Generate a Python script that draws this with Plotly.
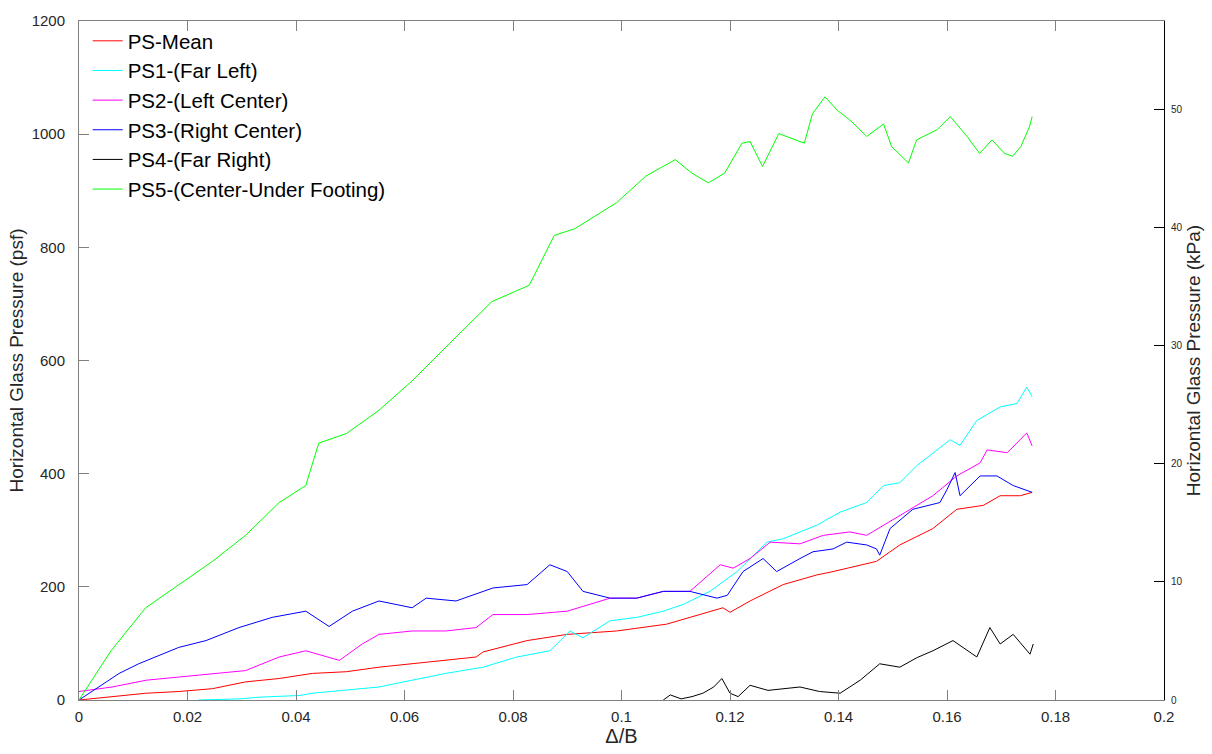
import plotly.graph_objects as go

# ---------------- data ----------------
series_names = ["PS-Mean", "PS1-(Far Left)", "PS2-(Left Center)", "PS3-(Right Center)",
                "PS4-(Far Right)", "PS5-(Center-Under Footing)"]

mean_x = [0, 0.0061, 0.0124, 0.0184, 0.0246, 0.0307, 0.0369, 0.043, 0.0493, 0.0553, 0.0614, 0.0676,
          0.0732, 0.0745, 0.0826, 0.09, 0.0991, 0.1083, 0.1144, 0.1187, 0.12, 0.1237, 0.1298, 0.136,
          0.139, 0.147, 0.1513, 0.1574, 0.1618, 0.1667, 0.1698, 0.1735, 0.1757]
mean_y = [0, 6, 12, 15, 20, 32, 38, 47, 50, 58, 64, 70, 76, 85, 105, 116, 122, 134, 151, 163, 155,
          175, 204, 221, 227, 245, 274, 303, 337, 344, 361, 361, 367]

ps1_x = [0.022, 0.0297, 0.0332, 0.0407, 0.043, 0.0493, 0.0553, 0.0614, 0.0676, 0.0745, 0.0807, 0.0868,
         0.0905, 0.0929, 0.0979, 0.1028, 0.1077, 0.1114, 0.1163, 0.1213, 0.1268, 0.1298, 0.136, 0.1403,
         0.1452, 0.1483, 0.1513, 0.1544, 0.1574, 0.1606, 0.1624, 0.1655, 0.1698, 0.1729, 0.1747, 0.1757]
ps1_y = [0, 2, 5, 8, 12, 17, 23, 35, 47, 58, 76, 87, 122, 110, 140, 146, 157, 169, 192, 227, 279, 285,
         309, 332, 349, 379, 384, 414, 437, 460, 450, 494, 518, 524, 553, 536]

ps2_x = [0, 0.0061, 0.0124, 0.0184, 0.0246, 0.0307, 0.0369, 0.0418, 0.048, 0.0522, 0.0553, 0.0614,
         0.0676, 0.0732, 0.0763, 0.0826, 0.09, 0.0979, 0.1028, 0.1077, 0.1126, 0.1182, 0.1206, 0.1237,
         0.1274, 0.1329, 0.1372, 0.1421, 0.1452, 0.1513, 0.1574, 0.1618, 0.1661, 0.1674, 0.1711, 0.1747,
         0.1757]
ps2_y = [15, 23, 35, 41, 47, 52, 76, 87, 70, 99, 116, 122, 122, 128, 151, 151, 157, 180, 180, 192, 192,
         239, 233, 250, 279, 276, 291, 297, 291, 326, 361, 396, 419, 442, 437, 472, 449]

ps3_x = [0, 0.0037, 0.0074, 0.011, 0.0153, 0.0184, 0.0234, 0.0295, 0.0356, 0.0418, 0.0461, 0.0504,
         0.0553, 0.0614, 0.064, 0.0695, 0.0763, 0.0826, 0.0868, 0.09, 0.0929, 0.0979, 0.1028, 0.1077,
         0.1126, 0.1176, 0.1195, 0.1224, 0.1261, 0.1286, 0.1329, 0.1353, 0.139, 0.1415, 0.1452, 0.147,
         0.1476, 0.1495, 0.1537, 0.1587, 0.16, 0.1615, 0.1624, 0.1661, 0.1692, 0.1722, 0.1757]
ps3_y = [0, 23, 47, 64, 81, 93, 105, 128, 146, 157, 130, 157, 175, 163, 180, 175, 198, 204, 239, 227,
         192, 180, 180, 192, 192, 180, 185, 227, 250, 227, 250, 262, 267, 279, 274, 267, 256, 303, 337,
         349, 372, 402, 361, 396, 396, 379, 367]

ps4_x = [0.1077, 0.109, 0.111, 0.113, 0.115, 0.117, 0.1185, 0.12, 0.1215, 0.1237, 0.127, 0.13, 0.1329,
         0.1365, 0.1403, 0.144, 0.1476, 0.1513, 0.1545, 0.1574, 0.1611, 0.1655, 0.1679, 0.1698, 0.1722,
         0.1753, 0.1759]
ps4_y = [0, 9, 2, 6, 12, 23, 38, 12, 6, 26, 17, 20, 23, 15, 12, 35, 64, 58, 75, 87, 105, 76, 128, 99,
         116, 81, 99]

ps5_x = [0, 0.002, 0.0059, 0.0123, 0.0184, 0.0246, 0.0307, 0.0369, 0.0418, 0.0442, 0.0493, 0.0553,
         0.0614, 0.0645, 0.0706, 0.0761, 0.083, 0.0876, 0.0914, 0.0991, 0.1045, 0.1099, 0.113, 0.116,
         0.119, 0.1222, 0.1237, 0.126, 0.129, 0.1337, 0.1352, 0.1375, 0.1398, 0.1421, 0.1452, 0.1483,
         0.1498, 0.1529, 0.1544, 0.1582, 0.1606, 0.1637, 0.166, 0.1683, 0.1706, 0.1721, 0.1736, 0.1752,
         0.1757]
ps5_y = [0, 30, 87, 163, 204, 245, 291, 349, 379, 454, 471, 512, 564, 594, 652, 704, 733, 821, 833, 879,
         926, 955, 931, 914, 931, 984, 987, 943, 1001, 984, 1036, 1066, 1042, 1025, 996, 1018, 978, 949,
         990, 1008, 1031, 996, 966, 990, 966, 961, 978, 1013, 1031]

x_tick_vals = [0, 0.02, 0.04, 0.06, 0.08, 0.1, 0.12, 0.14, 0.16, 0.18, 0.2]
x_tick_text = ["0", "0.02", "0.04", "0.06", "0.08", "0.1", "0.12", "0.14", "0.16", "0.18", "0.2"]
psf_ticks = [0, 200, 400, 600, 800, 1000, 1200]
kpa_ticks = [0, 10, 20, 30, 40, 50]
PSF_TO_KPA = 0.04788026

# ---------------- figure ----------------
colors = ["#ff0000", "#00ffff", "#ff00ff", "#0000ff", "#000000", "#00ff00"]
xs = [mean_x, ps1_x, ps2_x, ps3_x, ps4_x, ps5_x]
ys = [mean_y, ps1_y, ps2_y, ps3_y, ps4_y, ps5_y]

fig = go.Figure()
for i, (name, x, y, c) in enumerate(zip(series_names, xs, ys, colors)):
    fig.add_trace(go.Scatter(x=x, y=y, mode="lines", name=name,
                             line=dict(color=c, width=1)))

# invisible trace to activate right axis
fig.add_trace(go.Scatter(x=[0], y=[0], yaxis="y2", mode="lines", showlegend=False,
                         hoverinfo="skip", line=dict(width=0, color="rgba(0,0,0,0)")))

font_family = "Arial, Liberation Sans, Helvetica, sans-serif"
axcol = "#808080"
txtcol = "#262626"

fig.update_layout(
    width=1212, height=754,
    margin=dict(l=79, r=48, t=13, b=54),
    paper_bgcolor="white", plot_bgcolor="white",
    font=dict(family=font_family, color=txtcol, size=15),
    showlegend=True,
    legend=dict(x=0.008, y=1.0, xanchor="left", yanchor="top",
                bgcolor="rgba(0,0,0,0)", borderwidth=0,
                font=dict(size=20.5, color="#000000"), itemwidth=30),
    xaxis=dict(range=[0, 0.2], tickvals=x_tick_vals, ticktext=x_tick_text,
               ticks="inside", ticklen=10, tickcolor=axcol, showline=True, linecolor=axcol,
               linewidth=1, mirror="ticks", showgrid=False, zeroline=False,
               tickfont=dict(size=15, color=txtcol), ticklabelstandoff=3,
               title=dict(text="Δ/B", font=dict(size=20, color=txtcol), standoff=2)),
    yaxis=dict(range=[0, 1200], tickvals=psf_ticks, ticks="inside", ticklen=10, tickcolor=axcol,
               showline=True, linecolor=axcol, linewidth=1, showgrid=False, zeroline=False,
               tickfont=dict(size=15, color=txtcol), ticklabelstandoff=10,
               title=dict(text="Horizontal Glass Pressure (psf)", font=dict(size=19, color=txtcol),
                          standoff=2)),
    yaxis2=dict(range=[0, 1200 * PSF_TO_KPA], tickvals=kpa_ticks, overlaying="y", side="right",
                ticks="inside", ticklen=10, tickcolor="#000000", showline=True, linecolor="#000000",
                linewidth=1, showgrid=False, zeroline=False,
                tickfont=dict(size=10, color=txtcol), ticklabelstandoff=4,
                title=dict(text="Horizontal Glass Pressure (kPa)", font=dict(size=19, color=txtcol),
                           standoff=2)),
)

fig.write_html("out.html")
